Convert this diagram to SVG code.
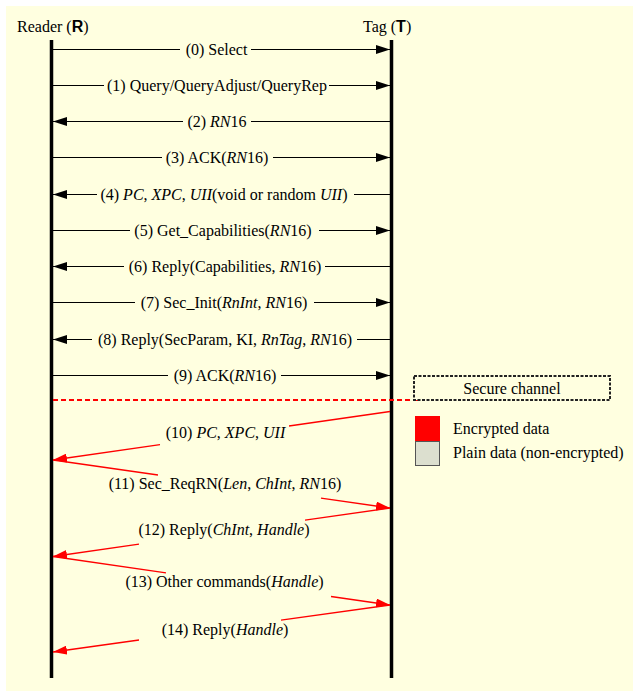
<svg xmlns="http://www.w3.org/2000/svg" width="633" height="691" viewBox="0 0 633 691">
<style>
text{font-family:"Liberation Serif","Times New Roman",serif;font-size:16px;fill:#000}
.lbl{text-anchor:middle}
.i{font-style:italic}
.b{font-family:"Liberation Sans",Arial,sans-serif;font-weight:bold}
.life{stroke:#000;stroke-width:3.5;fill:none}
.msg{stroke:#000;stroke-width:1;fill:none}
.enc{stroke:#ff0000;stroke-width:1.3;fill:none}
</style>
<defs>
<marker id="ah" markerUnits="userSpaceOnUse" markerWidth="14" markerHeight="9" refX="14" refY="4.5" orient="auto"><path d="M0,0 L14,4.5 L0,9 z" fill="#000"/></marker>
<marker id="ahr" markerUnits="userSpaceOnUse" markerWidth="14" markerHeight="9" refX="14" refY="4.5" orient="auto"><path d="M0,0 L14,4.5 L0,9 z" fill="#ff0000"/></marker>
</defs>
<rect x="6" y="6" width="627" height="685" fill="#FFFFE0"/>
<g id="reader">
<text x="17" y="32">Reader (<tspan class="b">R</tspan>)</text>
<line class="life" x1="51.5" y1="40" x2="51.5" y2="678"/>
</g>
<g id="tag">
<text x="363" y="32">Tag (<tspan class="b">T</tspan>)</text>
<line class="life" x1="391.5" y1="40" x2="391.5" y2="678"/>
</g>
<g id="secure-channel">
<line x1="53" y1="400" x2="420" y2="400" stroke="#ff0000" stroke-width="2" stroke-dasharray="5,3"/>
<rect x="414" y="376" width="196" height="24" fill="#FFFFE0" stroke="#222" stroke-width="2" stroke-dasharray="3,1.5"/>
<text class="lbl" x="512" y="394">Secure channel</text>
</g>
<g id="legend-encrypted">
<rect x="415" y="416" width="25" height="25" fill="#ff0000"/>
<text x="453" y="434">Encrypted data</text>
</g>
<g id="legend-plain">
<rect x="415.5" y="441.5" width="24" height="24" fill="#DCDFCF" stroke="#555" stroke-width="1"/>
<text x="453" y="458">Plain data (non-encrypted)</text>
</g>
<g id="connectors">
<line class="msg" x1="53" y1="49.5" x2="180" y2="49.5"/><line class="msg" x1="251" y1="49.5" x2="390" y2="49.5" marker-end="url(#ah)"/>
<text class="lbl" x="216.5" y="54.5">(0) Select</text>
<line class="msg" x1="53" y1="85.5" x2="104" y2="85.5"/><line class="msg" x1="329" y1="85.5" x2="390" y2="85.5" marker-end="url(#ah)"/>
<text class="lbl" x="217" y="90.5">(1) Query/QueryAdjust/QueryRep</text>
<line class="msg" x1="390" y1="121.5" x2="251" y2="121.5"/><line class="msg" x1="183" y1="121.5" x2="53" y2="121.5" marker-end="url(#ah)"/>
<text class="lbl" x="217" y="126.5">(2) <tspan class="i">RN</tspan>16</text>
<line class="msg" x1="53" y1="157.5" x2="162" y2="157.5"/><line class="msg" x1="273" y1="157.5" x2="390" y2="157.5" marker-end="url(#ah)"/>
<text class="lbl" x="217" y="162.5">(3) ACK(<tspan class="i">RN</tspan>16)</text>
<line class="msg" x1="390" y1="194.5" x2="354" y2="194.5"/><line class="msg" x1="97" y1="194.5" x2="53" y2="194.5" marker-end="url(#ah)"/>
<text class="lbl" x="224" y="199.5">(4) <tspan class="i">PC</tspan>, <tspan class="i">XPC</tspan>, <tspan class="i">UII</tspan>(void or random <tspan class="i">UII</tspan>)</text>
<line class="msg" x1="53" y1="230.5" x2="130" y2="230.5"/><line class="msg" x1="319" y1="230.5" x2="390" y2="230.5" marker-end="url(#ah)"/>
<text class="lbl" x="223" y="235.5">(5) Get_Capabilities(<tspan class="i">RN</tspan>16)</text>
<line class="msg" x1="390" y1="266.5" x2="325" y2="266.5"/><line class="msg" x1="124" y1="266.5" x2="53" y2="266.5" marker-end="url(#ah)"/>
<text class="lbl" x="225" y="271.5">(6) Reply(Capabilities, <tspan class="i">RN</tspan>16)</text>
<line class="msg" x1="53" y1="302.5" x2="135" y2="302.5"/><line class="msg" x1="314" y1="302.5" x2="390" y2="302.5" marker-end="url(#ah)"/>
<text class="lbl" x="224" y="307.5">(7) Sec_Init(<tspan class="i">RnInt</tspan>, <tspan class="i">RN</tspan>16)</text>
<line class="msg" x1="390" y1="339.5" x2="357" y2="339.5"/><line class="msg" x1="92" y1="339.5" x2="53" y2="339.5" marker-end="url(#ah)"/>
<text class="lbl" x="225" y="344.5">(8) Reply(SecParam, KI, <tspan class="i">RnTag</tspan>, <tspan class="i">RN</tspan>16)</text>
<line class="msg" x1="53" y1="375.5" x2="168" y2="375.5"/><line class="msg" x1="281" y1="375.5" x2="390" y2="375.5" marker-end="url(#ah)"/>
<text class="lbl" x="225" y="380.5">(9) ACK(<tspan class="i">RN</tspan>16)</text>
<line class="enc" x1="390" y1="411.5" x2="289" y2="426"/><line class="enc" x1="160" y1="444.6" x2="53" y2="460" marker-end="url(#ahr)"/>
<text class="lbl" x="225.5" y="438">(10) <tspan class="i">PC</tspan>, <tspan class="i">XPC</tspan>, <tspan class="i">UII</tspan></text>
<line class="enc" x1="53" y1="460" x2="158" y2="475"/><line class="enc" x1="321" y1="498.2" x2="390" y2="508" marker-end="url(#ahr)"/>
<text class="lbl" x="225" y="489">(11) Sec_ReqRN(<tspan class="i">Len</tspan>, <tspan class="i">ChInt</tspan>, <tspan class="i">RN</tspan>16)</text>
<line class="enc" x1="390" y1="508" x2="305" y2="520.2"/><line class="enc" x1="139" y1="544.1" x2="53" y2="556.5" marker-end="url(#ahr)"/>
<text class="lbl" x="224" y="535">(12) Reply(<tspan class="i">ChInt</tspan>, <tspan class="i">Handle</tspan>)</text>
<line class="enc" x1="53" y1="556.5" x2="166" y2="572.8"/><line class="enc" x1="331" y1="596.5" x2="390" y2="605" marker-end="url(#ahr)"/>
<text class="lbl" x="224.5" y="586.5">(13) Other commands(<tspan class="i">Handle</tspan>)</text>
<line class="enc" x1="390" y1="605" x2="281" y2="620.2"/><line class="enc" x1="139" y1="640" x2="53" y2="652" marker-end="url(#ahr)"/>
<text class="lbl" x="225" y="635">(14) Reply(<tspan class="i">Handle</tspan>)</text>
</g>
</svg>
